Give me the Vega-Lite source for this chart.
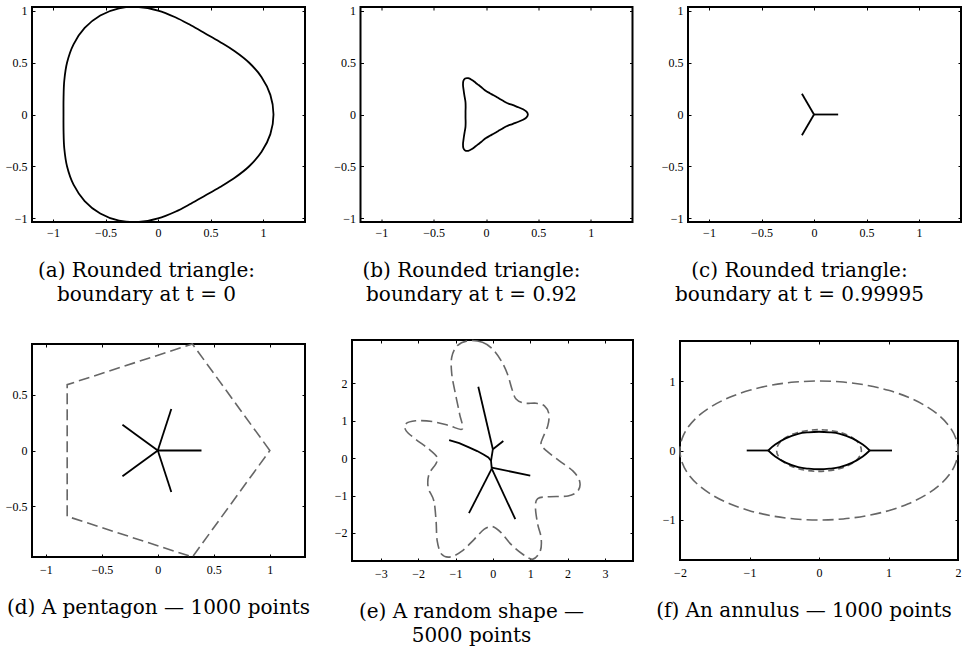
{
  "$schema": "https://vega.github.io/schema/vega-lite/v6.json",
  "background": "white",
  "padding": {"left": 4, "top": 2, "right": 2, "bottom": 0},
  "config": {
    "view": {"stroke": "black", "strokeWidth": 2},
    "axis": {"grid": false, "domain": false, "tickColor": "black", "tickSize": -3, "tickWidth": 1, "labelFont": "Liberation Serif", "labelFontSize": 12, "labelColor": "black", "labelPadding": 8, "labelFlush": false, "labelOverlap": false},
    "title": {"font": "DejaVu Serif", "fontSize": 20, "fontWeight": "normal", "color": "black", "orient": "bottom", "anchor": "middle", "frame": "group", "offset": 23, "lineHeight": 24}
  },
  "datasets": {
    "a": [
      {"i":0,"x":1.1,"y":0},{"i":1,"x":1.0701,"y":0.1887},{"i":2,"x":0.9867,"y":0.3591},{"i":3,"x":0.866,"y":0.5},{"i":4,"x":0.7277,"y":0.6106},{"i":5,"x":0.5871,"y":0.6997},{"i":6,"x":0.45,"y":0.7794},{"i":7,"x":0.3124,"y":0.8583},{"i":8,"x":0.165,"y":0.9356},{"i":9,"x":0,"y":1},{"i":10,"x":-0.1823,"y":1.034},{"i":11,"x":-0.3716,"y":1.0211},{"i":12,"x":-0.55,"y":0.9526},{"i":13,"x":-0.6985,"y":0.8323},{"i":14,"x":-0.8043,"y":0.6749},{"i":15,"x":-0.866,"y":0.5},{"i":16,"x":-0.8927,"y":0.3249},{"i":17,"x":-0.8995,"y":0.1586},{"i":18,"x":-0.9,"y":0},{"i":19,"x":-0.8995,"y":-0.1586},{"i":20,"x":-0.8927,"y":-0.3249},{"i":21,"x":-0.866,"y":-0.5},{"i":22,"x":-0.8043,"y":-0.6749},{"i":23,"x":-0.6985,"y":-0.8323},{"i":24,"x":-0.55,"y":-0.9526},{"i":25,"x":-0.3716,"y":-1.0211},{"i":26,"x":-0.1823,"y":-1.034},{"i":27,"x":0,"y":-1},{"i":28,"x":0.165,"y":-0.9356},{"i":29,"x":0.3124,"y":-0.8583},{"i":30,"x":0.45,"y":-0.7794},{"i":31,"x":0.5871,"y":-0.6997},{"i":32,"x":0.7277,"y":-0.6106},{"i":33,"x":0.866,"y":-0.5},{"i":34,"x":0.9867,"y":-0.3591},{"i":35,"x":1.0701,"y":-0.1887}
    ],
    "b": [
      {"i":0,"x":0.4,"y":0},{"i":1,"x":0.387,"y":0.027},{"i":2,"x":0.354,"y":0.05},{"i":3,"x":0.315,"y":0.067},{"i":4,"x":0.281,"y":0.081},{"i":5,"x":0.252,"y":0.092},{"i":6,"x":0.22,"y":0.103},{"i":7,"x":0.196,"y":0.113},{"i":8,"x":0.159,"y":0.134},{"i":9,"x":0.128,"y":0.152},{"i":10,"x":0.098,"y":0.17},{"i":11,"x":0.068,"y":0.187},{"i":12,"x":0.036,"y":0.205},{"i":13,"x":0,"y":0.226},{"i":14,"x":-0.021,"y":0.242},{"i":15,"x":-0.047,"y":0.264},{"i":16,"x":-0.071,"y":0.283},{"i":17,"x":-0.1,"y":0.306},{"i":18,"x":-0.134,"y":0.331},{"i":19,"x":-0.17,"y":0.349},{"i":20,"x":-0.2,"y":0.346},{"i":21,"x":-0.217,"y":0.322},{"i":22,"x":-0.22,"y":0.281},{"i":23,"x":-0.215,"y":0.239},{"i":24,"x":-0.21,"y":0.203},{"i":25,"x":-0.205,"y":0.172},{"i":26,"x":-0.199,"y":0.139},{"i":27,"x":-0.196,"y":0.113},{"i":28,"x":-0.195,"y":0.071},{"i":29,"x":-0.196,"y":0.035},{"i":30,"x":-0.196,"y":0},{"i":31,"x":-0.196,"y":-0.035},{"i":32,"x":-0.195,"y":-0.071},{"i":33,"x":-0.196,"y":-0.113},{"i":34,"x":-0.199,"y":-0.139},{"i":35,"x":-0.205,"y":-0.172},{"i":36,"x":-0.21,"y":-0.203},{"i":37,"x":-0.215,"y":-0.239},{"i":38,"x":-0.22,"y":-0.281},{"i":39,"x":-0.217,"y":-0.322},{"i":40,"x":-0.2,"y":-0.346},{"i":41,"x":-0.17,"y":-0.349},{"i":42,"x":-0.134,"y":-0.331},{"i":43,"x":-0.1,"y":-0.306},{"i":44,"x":-0.071,"y":-0.283},{"i":45,"x":-0.047,"y":-0.264},{"i":46,"x":-0.021,"y":-0.242},{"i":47,"x":0,"y":-0.226},{"i":48,"x":0.036,"y":-0.205},{"i":49,"x":0.068,"y":-0.187},{"i":50,"x":0.098,"y":-0.17},{"i":51,"x":0.128,"y":-0.152},{"i":52,"x":0.159,"y":-0.134},{"i":53,"x":0.196,"y":-0.113},{"i":54,"x":0.22,"y":-0.103},{"i":55,"x":0.252,"y":-0.092},{"i":56,"x":0.281,"y":-0.081},{"i":57,"x":0.315,"y":-0.067},{"i":58,"x":0.354,"y":-0.05},{"i":59,"x":0.387,"y":-0.027}
    ],
    "c": [
      {"seg":0,"i":0,"x":0,"y":0},{"seg":0,"i":1,"x":0.23,"y":0},
      {"seg":1,"i":0,"x":0,"y":0},{"seg":1,"i":1,"x":-0.115,"y":0.2},
      {"seg":2,"i":0,"x":0,"y":0},{"seg":2,"i":1,"x":-0.115,"y":-0.2}
    ],
    "d_star": [
      {"seg":0,"i":0,"x":0,"y":0},{"seg":0,"i":1,"x":0.39,"y":0},
      {"seg":1,"i":0,"x":0,"y":0},{"seg":1,"i":1,"x":0.1205,"y":0.3709},
      {"seg":2,"i":0,"x":0,"y":0},{"seg":2,"i":1,"x":-0.3155,"y":0.2292},
      {"seg":3,"i":0,"x":0,"y":0},{"seg":3,"i":1,"x":-0.3155,"y":-0.2292},
      {"seg":4,"i":0,"x":0,"y":0},{"seg":4,"i":1,"x":0.1205,"y":-0.3709}
    ],
    "d_poly": [
      {"i":0,"x":1,"y":0},{"i":1,"x":0.309,"y":0.951},{"i":2,"x":-0.809,"y":0.588},{"i":3,"x":-0.809,"y":-0.588},{"i":4,"x":0.309,"y":-0.951}
    ],
    "e_shape": [
      {"i":1,"x":-0.64,"y":3.14},{"i":2,"x":-0.28,"y":3.1},{"i":3,"x":-0.01,"y":2.92},{"i":4,"x":0.22,"y":2.61},{"i":5,"x":0.39,"y":2.25},{"i":6,"x":0.51,"y":1.85},{"i":7,"x":0.62,"y":1.58},{"i":8,"x":0.84,"y":1.47},{"i":9,"x":1.16,"y":1.47},{"i":10,"x":1.38,"y":1.4},{"i":11,"x":1.5,"y":1.18},{"i":12,"x":1.47,"y":0.87},{"i":13,"x":1.34,"y":0.55},{"i":14,"x":1.29,"y":0.37},{"i":15,"x":1.43,"y":0.2},{"i":16,"x":1.78,"y":-0.07},{"i":17,"x":2.14,"y":-0.34},{"i":18,"x":2.32,"y":-0.61},{"i":19,"x":2.28,"y":-0.87},{"i":20,"x":2.01,"y":-1.01},{"i":21,"x":1.52,"y":-1.03},{"i":22,"x":1.2,"y":-1.08},{"i":23,"x":1.14,"y":-1.32},{"i":24,"x":1.2,"y":-1.77},{"i":25,"x":1.29,"y":-2.12},{"i":26,"x":1.27,"y":-2.48},{"i":27,"x":1.07,"y":-2.7},{"i":28,"x":0.8,"y":-2.57},{"i":29,"x":0.48,"y":-2.3},{"i":30,"x":0.22,"y":-1.99},{"i":31,"x":-0.01,"y":-1.83},{"i":32,"x":-0.23,"y":-1.9},{"i":33,"x":-0.5,"y":-2.17},{"i":34,"x":-0.82,"y":-2.48},{"i":35,"x":-1.13,"y":-2.64},{"i":36,"x":-1.37,"y":-2.57},{"i":37,"x":-1.49,"y":-2.21},{"i":38,"x":-1.52,"y":-1.68},{"i":39,"x":-1.58,"y":-1.14},{"i":40,"x":-1.73,"y":-0.79},{"i":41,"x":-1.71,"y":-0.43},{"i":42,"x":-1.53,"y":-0.16},{"i":43,"x":-1.49,"y":0.02},{"i":44,"x":-1.71,"y":0.24},{"i":45,"x":-2.07,"y":0.51},{"i":46,"x":-2.32,"y":0.73},{"i":47,"x":-2.34,"y":0.91},{"i":48,"x":-2.07,"y":1.0},{"i":49,"x":-1.62,"y":0.98},{"i":50,"x":-1.17,"y":0.87},{"i":51,"x":-0.82,"y":0.78},{"i":52,"x":-0.89,"y":1.18},{"i":53,"x":-1.0,"y":1.71},{"i":54,"x":-1.1,"y":2.25},{"i":55,"x":-1.1,"y":2.7},{"i":56,"x":-0.95,"y":3.01}
    ],
    "e_skel": [
      {"seg":0,"i":0,"x":-0.39,"y":1.91},{"seg":0,"i":1,"x":0.0,"y":0.24},
      {"seg":1,"i":0,"x":0.0,"y":0.24},{"seg":1,"i":1,"x":0.28,"y":0.46},
      {"seg":2,"i":0,"x":0.0,"y":0.24},{"seg":2,"i":1,"x":-0.05,"y":-0.07},
      {"seg":3,"i":0,"x":-1.17,"y":0.48},{"seg":3,"i":1,"x":-0.9,"y":0.4},{"seg":3,"i":2,"x":-0.64,"y":0.29},{"seg":3,"i":3,"x":-0.42,"y":0.19},{"seg":3,"i":4,"x":-0.25,"y":0.1},{"seg":3,"i":5,"x":-0.12,"y":0.02},{"seg":3,"i":6,"x":-0.05,"y":-0.07},
      {"seg":4,"i":0,"x":-0.05,"y":-0.07},{"seg":4,"i":1,"x":-0.03,"y":-0.28},
      {"seg":5,"i":0,"x":-0.03,"y":-0.25},{"seg":5,"i":1,"x":1.0,"y":-0.47},
      {"seg":6,"i":0,"x":-0.03,"y":-0.28},{"seg":6,"i":1,"x":-0.64,"y":-1.47},
      {"seg":7,"i":0,"x":-0.03,"y":-0.28},{"seg":7,"i":1,"x":0.6,"y":-1.63}
    ],
    "f_outer": [
      {"i":0,"x":2,"y":0},{"i":1,"x":1.9696,"y":0.1736},{"i":2,"x":1.8794,"y":0.342},{"i":3,"x":1.7321,"y":0.5},{"i":4,"x":1.5321,"y":0.6428},{"i":5,"x":1.2856,"y":0.766},{"i":6,"x":1.0,"y":0.866},{"i":7,"x":0.684,"y":0.9397},{"i":8,"x":0.3473,"y":0.9848},{"i":9,"x":0,"y":1},{"i":10,"x":-0.3473,"y":0.9848},{"i":11,"x":-0.684,"y":0.9397},{"i":12,"x":-1.0,"y":0.866},{"i":13,"x":-1.2856,"y":0.766},{"i":14,"x":-1.5321,"y":0.6428},{"i":15,"x":-1.7321,"y":0.5},{"i":16,"x":-1.8794,"y":0.342},{"i":17,"x":-1.9696,"y":0.1736},{"i":18,"x":-2,"y":0},{"i":19,"x":-1.9696,"y":-0.1736},{"i":20,"x":-1.8794,"y":-0.342},{"i":21,"x":-1.7321,"y":-0.5},{"i":22,"x":-1.5321,"y":-0.6428},{"i":23,"x":-1.2856,"y":-0.766},{"i":24,"x":-1.0,"y":-0.866},{"i":25,"x":-0.684,"y":-0.9397},{"i":26,"x":-0.3473,"y":-0.9848},{"i":27,"x":0,"y":-1},{"i":28,"x":0.3473,"y":-0.9848},{"i":29,"x":0.684,"y":-0.9397},{"i":30,"x":1.0,"y":-0.866},{"i":31,"x":1.2856,"y":-0.766},{"i":32,"x":1.5321,"y":-0.6428},{"i":33,"x":1.7321,"y":-0.5},{"i":34,"x":1.8794,"y":-0.342},{"i":35,"x":1.9696,"y":-0.1736}
    ],
    "f_inner": [
      {"i":0,"x":0.61,"y":0},{"i":1,"x":0.5283,"y":0.15},{"i":2,"x":0.305,"y":0.2598},{"i":3,"x":0,"y":0.3},{"i":4,"x":-0.305,"y":0.2598},{"i":5,"x":-0.5283,"y":0.15},{"i":6,"x":-0.61,"y":0},{"i":7,"x":-0.5283,"y":-0.15},{"i":8,"x":-0.305,"y":-0.2598},{"i":9,"x":0,"y":-0.3},{"i":10,"x":0.305,"y":-0.2598},{"i":11,"x":0.5283,"y":-0.15}
    ],
    "f_lens": [
      {"seg":0,"i":0,"x":-1.04,"y":0},{"seg":0,"i":1,"x":-0.73,"y":0},
      {"seg":1,"i":0,"x":0.73,"y":0},{"seg":1,"i":1,"x":1.05,"y":0},
      {"seg":2,"i":0,"x":-0.73,"y":0},{"seg":2,"i":1,"x":-0.63,"y":0.085},{"seg":2,"i":2,"x":-0.48,"y":0.175},{"seg":2,"i":3,"x":-0.3,"y":0.24},{"seg":2,"i":4,"x":-0.15,"y":0.262},{"seg":2,"i":5,"x":0,"y":0.27},{"seg":2,"i":6,"x":0.15,"y":0.262},{"seg":2,"i":7,"x":0.3,"y":0.24},{"seg":2,"i":8,"x":0.48,"y":0.175},{"seg":2,"i":9,"x":0.63,"y":0.085},{"seg":2,"i":10,"x":0.73,"y":0},
      {"seg":3,"i":0,"x":-0.73,"y":0},{"seg":3,"i":1,"x":-0.63,"y":-0.085},{"seg":3,"i":2,"x":-0.48,"y":-0.175},{"seg":3,"i":3,"x":-0.3,"y":-0.24},{"seg":3,"i":4,"x":-0.15,"y":-0.262},{"seg":3,"i":5,"x":0,"y":-0.27},{"seg":3,"i":6,"x":0.15,"y":-0.262},{"seg":3,"i":7,"x":0.3,"y":-0.24},{"seg":3,"i":8,"x":0.48,"y":-0.175},{"seg":3,"i":9,"x":0.63,"y":-0.085},{"seg":3,"i":10,"x":0.73,"y":0}
    ]
  },
  "spacing": 30,
  "vconcat": [
    {
      "hconcat": [
        {
          "width": 273, "height": 215,
          "title": {"text": ["(a) Rounded triangle:", "boundary at t = 0"], "dx": -22},
          "layer": [
            {"data": {"name": "a"}, "mark": {"type": "line", "interpolate": "cardinal-closed", "color": "black", "strokeWidth": 1.8},
             "encoding": {
               "x": {"field": "x", "type": "quantitative", "scale": {"domain": [-1.2, 1.4], "nice": false, "zero": false}, "axis": {"orient": "bottom", "values": [-1, -0.5, 0, 0.5, 1], "format": "~g", "title": null}},
               "y": {"field": "y", "type": "quantitative", "scale": {"domain": [-1.034, 1.034], "nice": false, "zero": false}, "axis": {"orient": "left", "values": [-1, -0.5, 0, 0.5, 1], "format": "~g", "title": null}},
               "order": {"field": "i"}}},
            {"data": {"name": "a"}, "mark": {"type": "line", "opacity": 0},
             "encoding": {
               "x": {"field": "x", "type": "quantitative", "scale": {"domain": [-1.2, 1.4], "nice": false, "zero": false}, "axis": {"orient": "top", "values": [-1, -0.5, 0, 0.5, 1], "labels": false, "title": null}},
               "y": {"field": "y", "type": "quantitative", "scale": {"domain": [-1.034, 1.034], "nice": false, "zero": false}, "axis": {"orient": "right", "values": [-1, -0.5, 0, 0.5, 1], "labels": false, "title": null}},
               "order": {"field": "i"}}}
          ],
          "resolve": {"axis": {"x": "independent", "y": "independent"}}
        },
        {
          "width": 272, "height": 215,
          "title": {"text": ["(b) Rounded triangle:", "boundary at t = 0.92"], "dx": -25},
          "layer": [
            {"data": {"name": "b"}, "mark": {"type": "line", "interpolate": "cardinal-closed", "color": "black", "strokeWidth": 1.8},
             "encoding": {
               "x": {"field": "x", "type": "quantitative", "scale": {"domain": [-1.2, 1.4], "nice": false, "zero": false}, "axis": {"orient": "bottom", "values": [-1, -0.5, 0, 0.5, 1], "format": "~g", "title": null}},
               "y": {"field": "y", "type": "quantitative", "scale": {"domain": [-1.034, 1.034], "nice": false, "zero": false}, "axis": {"orient": "left", "values": [-1, -0.5, 0, 0.5, 1], "format": "~g", "title": null}},
               "order": {"field": "i"}}},
            {"data": {"name": "b"}, "mark": {"type": "line", "opacity": 0},
             "encoding": {
               "x": {"field": "x", "type": "quantitative", "scale": {"domain": [-1.2, 1.4], "nice": false, "zero": false}, "axis": {"orient": "top", "values": [-1, -0.5, 0, 0.5, 1], "labels": false, "title": null}},
               "y": {"field": "y", "type": "quantitative", "scale": {"domain": [-1.034, 1.034], "nice": false, "zero": false}, "axis": {"orient": "right", "values": [-1, -0.5, 0, 0.5, 1], "labels": false, "title": null}},
               "order": {"field": "i"}}}
          ],
          "resolve": {"axis": {"x": "independent", "y": "independent"}}
        },
        {
          "width": 273, "height": 215,
          "title": {"text": ["(c) Rounded triangle:", "boundary at t = 0.99995"], "dx": -25},
          "layer": [
            {"data": {"name": "c"}, "mark": {"type": "line", "color": "black", "strokeWidth": 1.8},
             "encoding": {
               "x": {"field": "x", "type": "quantitative", "scale": {"domain": [-1.2, 1.4], "nice": false, "zero": false}, "axis": {"orient": "bottom", "values": [-1, -0.5, 0, 0.5, 1], "format": "~g", "title": null}},
               "y": {"field": "y", "type": "quantitative", "scale": {"domain": [-1.034, 1.034], "nice": false, "zero": false}, "axis": {"orient": "left", "values": [-1, -0.5, 0, 0.5, 1], "format": "~g", "title": null}},
               "detail": {"field": "seg"},
               "order": {"field": "i"}}},
            {"data": {"name": "c"}, "mark": {"type": "line", "opacity": 0},
             "encoding": {
               "x": {"field": "x", "type": "quantitative", "scale": {"domain": [-1.2, 1.4], "nice": false, "zero": false}, "axis": {"orient": "top", "values": [-1, -0.5, 0, 0.5, 1], "labels": false, "title": null}},
               "y": {"field": "y", "type": "quantitative", "scale": {"domain": [-1.034, 1.034], "nice": false, "zero": false}, "axis": {"orient": "right", "values": [-1, -0.5, 0, 0.5, 1], "labels": false, "title": null}},
               "detail": {"field": "seg"},
               "order": {"field": "i"}}}
          ],
          "resolve": {"axis": {"x": "independent", "y": "independent"}}
        }
      ],
      "spacing": 55.5,
      "bounds": "flush"
    },
    {
      "hconcat": [
        {
          "width": 273, "height": 213,
          "title": {"text": "(d) A pentagon — 1000 points", "dx": -10},
          "layer": [
            {"data": {"name": "d_poly"}, "mark": {"type": "line", "interpolate": "linear-closed", "color": "#666666", "strokeWidth": 1.6, "strokeDash": [11, 5]},
             "encoding": {
               "x": {"field": "x", "type": "quantitative", "scale": {"domain": [-1.123, 1.314], "nice": false, "zero": false}, "axis": {"orient": "bottom", "values": [-1, -0.5, 0, 0.5, 1], "format": "~g", "title": null, "labelPadding": 10}},
               "y": {"field": "y", "type": "quantitative", "scale": {"domain": [-0.951, 0.951], "nice": false, "zero": false}, "axis": {"orient": "left", "values": [-0.5, 0, 0.5], "format": "~g", "title": null}},
               "order": {"field": "i"}}},
            {"data": {"name": "d_star"}, "mark": {"type": "line", "color": "black", "strokeWidth": 1.8},
             "encoding": {
               "x": {"field": "x", "type": "quantitative", "scale": {"domain": [-1.123, 1.314], "nice": false, "zero": false}, "axis": {"orient": "top", "values": [-1, -0.5, 0, 0.5, 1], "labels": false, "title": null}},
               "y": {"field": "y", "type": "quantitative", "scale": {"domain": [-0.951, 0.951], "nice": false, "zero": false}, "axis": {"orient": "right", "values": [-0.5, 0, 0.5], "labels": false, "title": null}},
               "detail": {"field": "seg"},
               "order": {"field": "i"}}}
          ],
          "resolve": {"axis": {"x": "independent", "y": "independent"}}
        },
        {
          "width": 281, "height": 221,
          "title": {"text": ["(e) A random shape —", "5000 points"], "dx": -21},
          "layer": [
            {"data": {"name": "e_shape"}, "mark": {"type": "line", "interpolate": "cardinal-closed", "color": "#666666", "strokeWidth": 1.6, "strokeDash": [11, 5]},
             "encoding": {
               "x": {"field": "x", "type": "quantitative", "scale": {"domain": [-3.77, 3.75], "nice": false, "zero": false}, "axis": {"orient": "bottom", "values": [-3, -2, -1, 0, 1, 2, 3], "format": "~g", "title": null, "labelPadding": 10}},
               "y": {"field": "y", "type": "quantitative", "scale": {"domain": [-2.75, 3.16], "nice": false, "zero": false}, "axis": {"orient": "left", "values": [-2, -1, 0, 1, 2], "format": "~g", "title": null}},
               "order": {"field": "i"}}},
            {"data": {"name": "e_skel"}, "mark": {"type": "line", "color": "black", "strokeWidth": 1.8},
             "encoding": {
               "x": {"field": "x", "type": "quantitative", "scale": {"domain": [-3.77, 3.75], "nice": false, "zero": false}, "axis": {"orient": "top", "values": [-3, -2, -1, 0, 1, 2, 3], "labels": false, "title": null}},
               "y": {"field": "y", "type": "quantitative", "scale": {"domain": [-2.75, 3.16], "nice": false, "zero": false}, "axis": {"orient": "right", "values": [-2, -1, 0, 1, 2], "labels": false, "title": null}},
               "detail": {"field": "seg"},
               "order": {"field": "i"}}}
          ],
          "resolve": {"axis": {"x": "independent", "y": "independent"}}
        },
        {
          "width": 278, "height": 219,
          "title": {"text": "(f) An annulus — 1000 points", "dx": -15},
          "layer": [
            {"data": {"name": "f_outer"}, "mark": {"type": "line", "interpolate": "cardinal-closed", "color": "#666666", "strokeWidth": 1.6, "strokeDash": [11, 5]},
             "encoding": {
               "x": {"field": "x", "type": "quantitative", "scale": {"domain": [-2, 2], "nice": false, "zero": false}, "axis": {"orient": "bottom", "values": [-2, -1, 0, 1, 2], "format": "~g", "title": null, "labelPadding": 10}},
               "y": {"field": "y", "type": "quantitative", "scale": {"domain": [-1.576, 1.576], "nice": false, "zero": false}, "axis": {"orient": "left", "values": [-1, 0, 1], "format": "~g", "title": null}},
               "order": {"field": "i"}}},
            {"data": {"name": "f_inner"}, "mark": {"type": "line", "interpolate": "cardinal-closed", "color": "#666666", "strokeWidth": 1.6, "strokeDash": [6, 4]},
             "encoding": {
               "x": {"field": "x", "type": "quantitative", "scale": {"domain": [-2, 2], "nice": false, "zero": false}, "axis": {"orient": "top", "values": [-2, -1, 0, 1, 2], "labels": false, "title": null}},
               "y": {"field": "y", "type": "quantitative", "scale": {"domain": [-1.576, 1.576], "nice": false, "zero": false}, "axis": {"orient": "right", "values": [-1, 0, 1], "labels": false, "title": null}},
               "order": {"field": "i"}}},
            {"data": {"name": "f_lens"}, "mark": {"type": "line", "interpolate": "cardinal", "color": "black", "strokeWidth": 1.8},
             "encoding": {
               "x": {"field": "x", "type": "quantitative", "scale": {"domain": [-2, 2], "nice": false, "zero": false}, "axis": null},
               "y": {"field": "y", "type": "quantitative", "scale": {"domain": [-1.576, 1.576], "nice": false, "zero": false}, "axis": null},
               "detail": {"field": "seg"},
               "order": {"field": "i"}}}
          ],
          "resolve": {"axis": {"x": "independent", "y": "independent"}}
        }
      ],
      "spacing": 47,
      "bounds": "flush",
      "center": true
    }
  ]
}
